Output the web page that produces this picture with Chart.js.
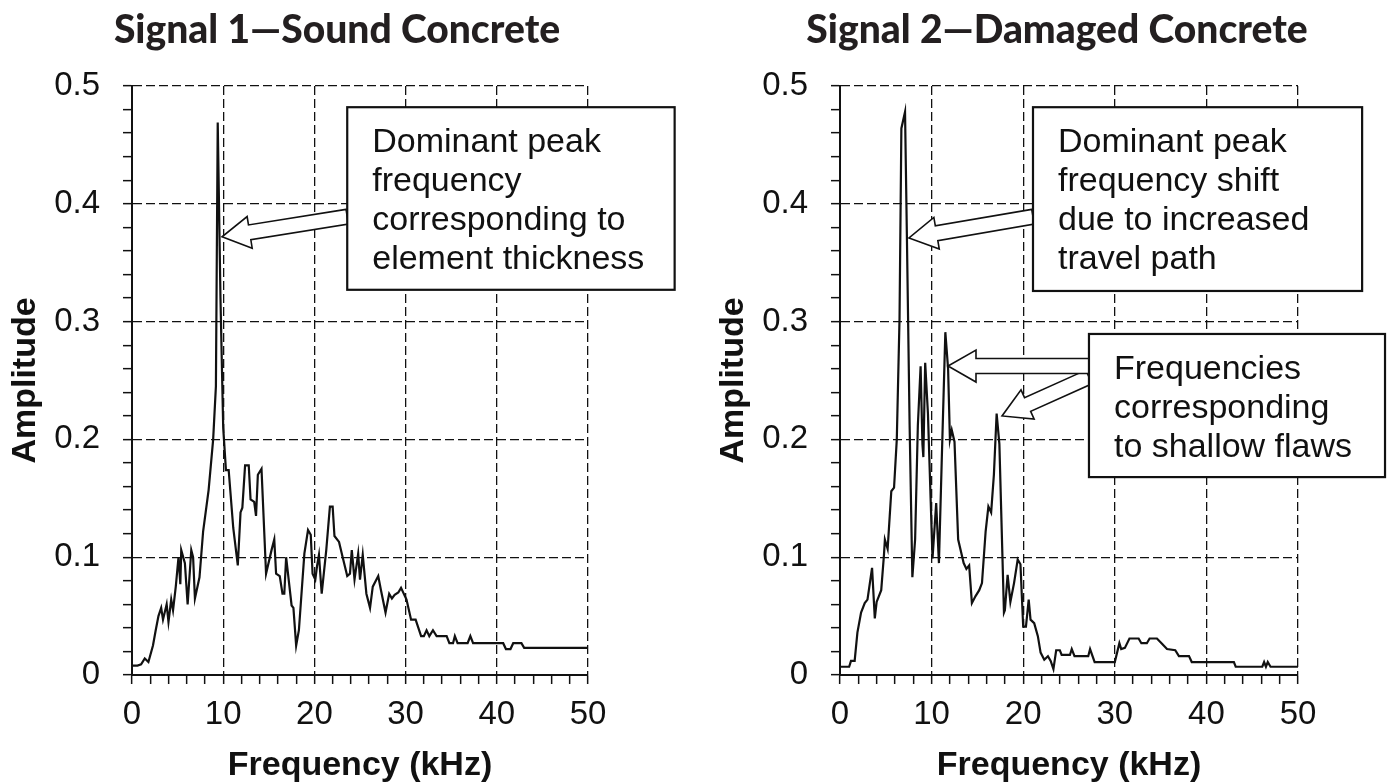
<!DOCTYPE html>
<html>
<head>
<meta charset="utf-8">
<script src="https://cdn.jsdelivr.net/npm/chart.js@4"></script>
<style>
  html, body { margin: 0; padding: 0; background: #fff; overflow: hidden; }
  #contenedor { position: relative; width: 1393px; height: 783px; }
  .panel { position: absolute; top: 0; height: 783px; }
</style>
</head>
<body>
<div id="contenedor">
  <div class="panel" style="left:0;width:696px"><canvas id="grafico1" width="696" height="783"></canvas></div>
  <div class="panel" style="left:696px;width:697px"><canvas id="grafico2" width="697" height="783"></canvas></div>
</div>
<script>
// Señal 1 - concreto sano
const frecuencias1 = [0, 0.6, 1.0, 1.4, 1.8, 2.3, 2.6, 2.9, 3.2, 3.4, 3.8, 4.0, 4.3, 4.5, 4.8, 5.1, 5.3, 5.4, 5.8, 6.1,
  6.5, 6.7, 6.9, 7.4, 7.8, 8.4, 8.9, 9.2, 9.4, 9.7, 10.0, 10.3, 10.6, 11.1, 11.6, 11.9, 12.1, 12.4, 12.8, 13.0,
  13.4, 13.6, 13.8, 14.2, 14.7, 15.3, 15.6, 15.8, 16.2, 16.5, 16.7, 16.9, 17.5, 17.7, 18.0, 18.3, 18.9, 19.3, 19.6, 19.8,
  20.1, 20.3, 20.5, 20.8, 21.3, 21.7, 22.0, 22.2, 22.7, 23.1, 23.6, 23.9, 24.1, 24.4, 24.8, 25.0, 25.3, 25.7, 26.1, 26.4,
  27.0, 27.3, 27.8, 28.2, 28.5, 28.8, 29.2, 29.5, 30.1, 30.6, 31.1, 31.7, 32.0, 32.3, 32.6, 33.0, 33.4, 34.5, 34.8, 35.2,
  35.4, 35.7, 36.8, 37.1, 37.4, 40.7, 41.0, 41.5, 41.8, 42.7, 43.0, 50];
const amplitudes1 = [0.008, 0.008, 0.009, 0.014, 0.011, 0.025, 0.038, 0.050, 0.057, 0.047, 0.060, 0.045, 0.064, 0.055, 0.075, 0.100, 0.077, 0.106, 0.095, 0.060,
  0.106, 0.100, 0.065, 0.083, 0.122, 0.157, 0.200, 0.245, 0.469, 0.320, 0.210, 0.174, 0.174, 0.125, 0.093, 0.138, 0.142, 0.178, 0.178, 0.149,
  0.147, 0.135, 0.170, 0.175, 0.086, 0.106, 0.115, 0.086, 0.084, 0.069, 0.069, 0.100, 0.059, 0.057, 0.025, 0.038, 0.103, 0.123, 0.119, 0.086,
  0.081, 0.093, 0.102, 0.069, 0.106, 0.143, 0.143, 0.118, 0.113, 0.100, 0.084, 0.086, 0.106, 0.081, 0.103, 0.081, 0.102, 0.069, 0.057, 0.075,
  0.084, 0.072, 0.053, 0.069, 0.065, 0.068, 0.070, 0.074, 0.064, 0.047, 0.047, 0.033, 0.033, 0.038, 0.033, 0.038, 0.033, 0.033, 0.027, 0.027,
  0.033, 0.027, 0.027, 0.033, 0.027, 0.027, 0.022, 0.022, 0.027, 0.027, 0.023, 0.023];

// Señal 2 - concreto dañado
const frecuencias2 = [0, 1.0, 1.2, 1.6, 1.9, 2.3, 2.7, 3.0, 3.5, 3.8, 4.0, 4.5, 4.8, 4.9, 5.2, 5.6, 5.9, 6.2, 6.5, 6.7,
  7.1, 7.3, 7.6, 7.9, 8.2, 8.5, 8.8, 9.0, 9.1, 9.3, 9.6, 9.9, 10.1, 10.5, 10.8, 11.1, 11.5, 11.8, 12.0, 12.2,
  12.5, 12.9, 13.5, 13.8, 14.1, 14.4, 14.8, 15.2, 15.5, 15.9, 16.2, 16.5, 16.8, 17.1, 17.4, 17.9, 18.0, 18.3, 18.6, 19.0,
  19.4, 19.7, 20.0, 20.3, 20.6, 20.8, 21.2, 21.6, 21.9, 22.3, 22.7, 23.0, 23.3, 23.6, 24.0, 24.2, 25.1, 25.3, 25.6, 27.1,
  27.3, 27.8, 30.0, 30.5, 30.7, 31.1, 31.6, 32.6, 32.9, 33.5, 33.8, 34.6, 35.1, 35.7, 36.6, 37.0, 38.1, 38.4, 43.0, 43.2,
  46.1, 46.3, 46.5, 46.7, 47.0, 50];
const amplitudes2 = [0.007, 0.007, 0.012, 0.012, 0.036, 0.053, 0.061, 0.064, 0.091, 0.048, 0.062, 0.072, 0.102, 0.115, 0.107, 0.156, 0.159, 0.200, 0.303, 0.464,
  0.478, 0.374, 0.212, 0.083, 0.115, 0.212, 0.262, 0.196, 0.185, 0.265, 0.222, 0.148, 0.099, 0.146, 0.095, 0.180, 0.291, 0.260, 0.200, 0.208,
  0.198, 0.115, 0.095, 0.090, 0.093, 0.061, 0.067, 0.072, 0.078, 0.122, 0.143, 0.138, 0.170, 0.222, 0.196, 0.053, 0.055, 0.085, 0.062, 0.078,
  0.098, 0.094, 0.041, 0.041, 0.064, 0.047, 0.044, 0.033, 0.019, 0.013, 0.016, 0.012, 0.005, 0.021, 0.021, 0.017, 0.017, 0.022, 0.016, 0.016,
  0.022, 0.011, 0.011, 0.027, 0.022, 0.023, 0.031, 0.031, 0.027, 0.027, 0.031, 0.031, 0.027, 0.022, 0.021, 0.016, 0.016, 0.011, 0.011, 0.007,
  0.007, 0.011, 0.007, 0.011, 0.007, 0.007];

const titulos = ["Signal 1—Sound Concrete", "Signal 2—Damaged Concrete"];
const textoEjeX = "Frequency (kHz)";
const textoEjeY = "Amplitude";

// cuadros de texto (esquinas en unidades de datos)
const notas1 = [
  { lineas: ["Dominant peak", "frequency", "corresponding to", "element thickness"], x1: 23.6, y1: 0.482, x2: 59.5, y2: 0.327 }
];
const notas2 = [
  { lineas: ["Dominant peak", "frequency shift", "due to increased", "travel path"], x1: 21.07, y1: 0.482, x2: 57.0, y2: 0.326 },
  { lineas: ["Frequencies", "corresponding", "to shallow flaws"], x1: 27.18, y1: 0.2895, x2: 59.5, y2: 0.168 }
];
// flechas: desde (x0,y0) hasta la punta (x1,y1)
const flechas1 = [
  { x0: 23.6, y0: 0.389, x1: 9.87, y1: 0.372 }
];
const flechas2 = [
  { x0: 21.07, y0: 0.389, x1: 7.53, y1: 0.371 },
  { x0: 27.18, y0: 0.253, x1: 17.69, y1: 0.2199 },
  { x0: 27.18, y0: 0.2623, x1: 11.79, y1: 0.2623 }
];

const fuente = "'Liberation Sans', Arial, sans-serif";
const esMayor = (v, paso) => Math.abs(v / paso - Math.round(v / paso)) < 1e-6;

const anotaciones = {
  id: "anotaciones",
  afterDraw(chart, args, opts) {
    const { ctx, scales: { x, y } } = chart;
    ctx.save();
    // titulo del panel
    ctx.fillStyle = "#231f20";
    ctx.font = "900 39px Lato, 'Noto Sans', sans-serif";
    ctx.textAlign = "center";
    ctx.textBaseline = "alphabetic";
    ctx.fillText(opts.titulo, opts.tituloX, 43);

    // flechas
    ctx.lineWidth = 1.6;
    ctx.strokeStyle = "#111";
    ctx.fillStyle = "#fff";
    opts.flechas.forEach(f => {
      const ax = x.getPixelForValue(f.x0), ay = y.getPixelForValue(f.y0);
      const bx = x.getPixelForValue(f.x1), by = y.getPixelForValue(f.y1);
      const largo = Math.hypot(bx - ax, by - ay);
      const dx = (bx - ax) / largo, dy = (by - ay) / largo;
      const nx = -dy, ny = dx;
      const w = 7.5, h = 16, L = 28;
      const cx = bx - dx * L, cy = by - dy * L;
      ctx.beginPath();
      ctx.moveTo(ax + nx * w, ay + ny * w);
      ctx.lineTo(cx + nx * w, cy + ny * w);
      ctx.lineTo(cx + nx * h, cy + ny * h);
      ctx.lineTo(bx, by);
      ctx.lineTo(cx - nx * h, cy - ny * h);
      ctx.lineTo(cx - nx * w, cy - ny * w);
      ctx.lineTo(ax - nx * w, ay - ny * w);
      ctx.closePath();
      ctx.fill();
      ctx.stroke();
    });

    // cuadros
    opts.notas.forEach(n => {
      const left = x.getPixelForValue(n.x1), right = x.getPixelForValue(n.x2);
      const top = y.getPixelForValue(n.y1), bottom = y.getPixelForValue(n.y2);
      ctx.fillStyle = "#fff";
      ctx.fillRect(left, top, right - left, bottom - top);
      ctx.lineWidth = 2.2;
      ctx.strokeStyle = "#111";
      ctx.strokeRect(left, top, right - left, bottom - top);
      ctx.fillStyle = "#111";
      ctx.font = "34px " + fuente;
      ctx.textAlign = "left";
      ctx.textBaseline = "alphabetic";
      n.lineas.forEach((t, i) => ctx.fillText(t, left + 25, top + 45 + i * 39));
    });
    ctx.restore();
  }
};

function crearGrafico(id, titulo, tituloX, xs, ys, notas, flechas, anchoEjeY, padDerecha, padTituloY) {
  const datos = xs.map((v, i) => ({ x: v, y: ys[i] }));
  return new Chart(document.getElementById(id), {
    type: "line",
    data: {
      datasets: [{
        data: datos,
        borderColor: "#111",
        borderWidth: 2.2,
        pointRadius: 0,
        tension: 0,
        fill: false
      }]
    },
    plugins: [anotaciones],
    options: {
      responsive: false,
      animation: false,
      layout: { padding: { top: 86, right: padDerecha, left: 0, bottom: 0 } },
      plugins: {
        legend: { display: false },
        title: { display: false },
        tooltip: { enabled: false },
        anotaciones: { titulo, tituloX, notas, flechas }
      },
      scales: {
        x: {
          type: "linear",
          min: 0,
          max: 50,
          afterFit: s => { s.height = 108; },
          ticks: {
            stepSize: 2,
            autoSkip: false,
            maxRotation: 0,
            padding: 11,
            color: "#111",
            font: { family: fuente, size: 33 },
            callback: v => esMayor(v, 10) ? String(Math.round(v)) : ""
          },
          grid: {
            color: c => (c.tick && esMayor(c.tick.value, 10)) ? "#111" : "rgba(0,0,0,0)",
            lineWidth: 1.3,
            tickColor: "#111",
            tickLength: 9,
            tickWidth: 1.5
          },
          border: { color: "#111", width: 2, dash: [9, 4] },
          title: {
            display: true,
            text: textoEjeX,
            color: "#111",
            font: { family: fuente, size: 34, weight: "bold", lineHeight: 1 },
            padding: { top: 0, bottom: 0 }
          }
        },
        y: {
          min: 0,
          max: 0.5,
          afterFit: s => { s.width = anchoEjeY; },
          ticks: {
            stepSize: 0.02,
            autoSkip: false,
            padding: 23,
            color: "#111",
            font: { family: fuente, size: 33 },
            callback: v => esMayor(v, 0.1) ? (Math.abs(v) < 1e-9 ? "0" : v.toFixed(1)) : ""
          },
          grid: {
            color: c => (c.tick && esMayor(c.tick.value, 0.1)) ? "#111" : "rgba(0,0,0,0)",
            lineWidth: 1.3,
            tickColor: "#111",
            tickLength: 9,
            tickWidth: 1.5
          },
          border: { color: "#111", width: 2, dash: [9, 4] },
          title: {
            display: true,
            text: textoEjeY,
            color: "#111",
            font: { family: fuente, size: 34, weight: "bold", lineHeight: 1 },
            padding: { top: padTituloY, bottom: 0 }
          }
        }
      }
    }
  });
}

crearGrafico("grafico1", titulos[0], 337, frecuencias1, amplitudes1, notas1, flechas1, 132, 108, 9);
crearGrafico("grafico2", titulos[1], 361, frecuencias2, amplitudes2, notas2, flechas2, 144, 95, 21);
</script>
</body>
</html>
